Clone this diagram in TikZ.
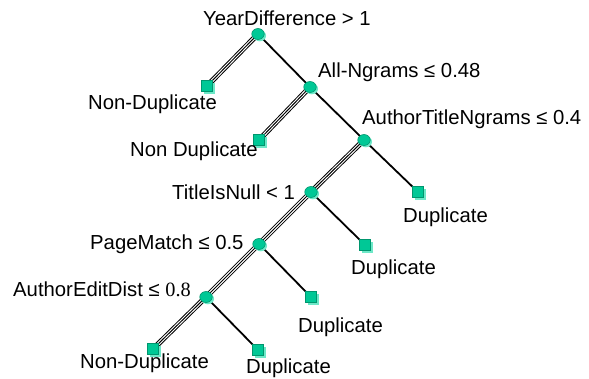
\documentclass[tikz,border=0pt]{standalone}
\usepackage{fontspec}
\setmainfont{Liberation Sans}
\newfontfamily\numserif{Liberation Serif}
\usetikzlibrary{shadows,backgrounds,shapes.geometric}
\definecolor{tealmain}{RGB}{0,200,150}
\definecolor{tealdark}{RGB}{0,150,110}
\definecolor{teallight}{RGB}{110,232,200}
\begin{document}
\begin{tikzpicture}[x=1pt,y=-1pt,
  every node/.style={inner sep=0pt},
  lbl/.style={anchor=base west,font=\fontsize{20.3}{24}\selectfont},
  split/.style={ellipse,minimum width=12.5pt,minimum height=11pt,fill=tealmain,draw=tealdark,line width=0.6pt,
     general shadow={fill=teallight,shadow xshift=1.8pt,shadow yshift=-1.8pt}},
  leaf/.style={rectangle,minimum size=10.5pt,fill=tealmain,draw=tealdark,line width=0.6pt,
     general shadow={fill=teallight,shadow xshift=2.5pt,shadow yshift=-2.5pt}},
  nobr/.style={draw=black,line width=1pt,double=white,double distance=3.2pt,
     postaction={draw=black,line width=1pt}},
  yesbr/.style={draw=black,line width=1.8pt}
]
\useasboundingbox (0,0) rectangle (589,379);
% split nodes
\node[split] (n1) at (258,34) {};
\node[split] (n2) at (310,87) {};
\node[split] (n3) at (364,140) {};
\node[split] (n4) at (311,192) {};
\node[split] (n5) at (259,244) {};
\node[split] (n6) at (206,297) {};
% leaves
\node[leaf] (l1) at (207,86) {};
\node[leaf] (l2) at (259,140) {};
\node[leaf] (l3) at (418,192) {};
\node[leaf] (l4) at (365,245) {};
\node[leaf] (l5) at (311,297) {};
\node[leaf] (l6) at (153,349) {};
\node[leaf] (l7) at (258,350) {};
% edges
\begin{scope}[on background layer]
\draw[nobr] (n1.center) -- (l1.center);
\draw[yesbr] (n1.center) -- (n2.center);
\draw[nobr] (n2.center) -- (l2.center);
\draw[yesbr] (n2.center) -- (n3.center);
\draw[nobr] (n3.center) -- (n4.center);
\draw[yesbr] (n3.center) -- (l3.center);
\draw[nobr] (n4.center) -- (n5.center);
\draw[yesbr] (n4.center) -- (l4.center);
\draw[nobr] (n5.center) -- (n6.center);
\draw[yesbr] (n5.center) -- (l5.center);
\draw[nobr] (n6.center) -- (l6.center);
\draw[yesbr] (n6.center) -- (l7.center);
\end{scope}
% labels
\node[lbl] (t1) at (203,26) {YearDifference > 1};
\node[lbl] (t2) at (318,78) {All-Ngrams ≤ 0.48};
\node[lbl] (t3) at (362,125) {AuthorTitleNgrams ≤ 0.4};
\node[lbl] (t4) at (172,200) {TitleIsNull < 1};
\node[lbl] (t5) at (90,250) {PageMatch ≤ 0.5};
\node[lbl] (t6) at (13,297) {AuthorEditDist ≤ {\numserif 0.8}};
\node[lbl] (tl1) at (88,110) {Non-Duplicate};
\node[lbl] (tl2) at (130,157) {Non Duplicate};
\node[lbl] (tl3) at (403,223) {Duplicate};
\node[lbl] (tl4) at (351,275) {Duplicate};
\node[lbl] (tl5) at (298,332) {Duplicate};
\node[lbl] (tl6) at (80,368) {Non-Duplicate};
\node[lbl] (tl7) at (246,373) {Duplicate};
\end{tikzpicture}
\end{document}
